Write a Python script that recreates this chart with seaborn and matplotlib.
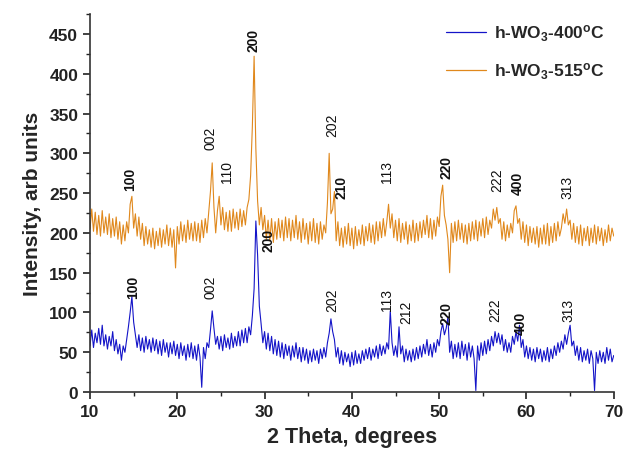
import numpy as np
import pandas as pd
import matplotlib
matplotlib.use('Agg')
import matplotlib.pyplot as plt
from matplotlib.ticker import MultipleLocator
import seaborn as sns

# XRD scans, 2theta from 10 to 70 deg in 0.2 deg steps
two_theta = np.round(np.arange(10, 70.01, 0.2), 1)

# h-WO3 annealed at 400 C, one row of five points per degree
int_400 = [
    58, 78, 56, 74, 62,    80, 60, 84, 58, 72,    54, 70, 58, 76, 52,
    66, 48, 60, 40, 58,    50, 66, 82, 100, 120,  88, 72, 56, 72, 52,
    68, 50, 70, 54, 66,    50, 68, 52, 66, 48,    64, 46, 66, 50, 62,
    44, 62, 48, 64, 46,    60, 42, 62, 46, 58,    40, 60, 44, 62, 42,
    58, 40, 60, 44, 6,     56, 42, 62, 56, 78,    102, 80, 60, 70, 54,
    70, 52, 72, 56, 68,    54, 74, 56, 70, 58,    76, 58, 78, 62, 80,
    62, 82, 72, 96, 130,   215, 172, 108, 86, 62,  76, 54, 74, 52, 70,
    48, 66, 46, 64, 44,    62, 42, 60, 46, 58,    40, 58, 44, 62, 42,
    56, 38, 56, 40, 54,    36, 52, 38, 54, 40,    52, 36, 54, 42, 56,
    44, 62, 74, 92, 76,    66, 44, 56, 36, 52,    34, 50, 38, 48, 32,
    50, 34, 52, 36, 48,    36, 52, 40, 54, 42,    56, 40, 54, 44, 58,
    42, 60, 46, 58, 48,    62, 54, 102, 62, 46,   58, 44, 82, 48, 58,
    38, 54, 40, 52, 38,    54, 40, 56, 42, 58,    44, 60, 48, 66, 46,
    60, 44, 62, 50, 66,    58, 76, 86, 72, 80,    94, 50, 64, 42, 60,
    44, 62, 42, 64, 46,    60, 40, 62, 44, 58,    42, 2, 58, 40, 62,
    46, 64, 48, 66, 52,    70, 58, 76, 62, 74,    60, 72, 52, 66, 50,
    62, 50, 70, 60, 76,    64, 84, 56, 66, 44,    58, 42, 56, 40, 54,
    38, 56, 42, 54, 38,    52, 40, 56, 38, 54,    42, 58, 46, 62, 50,
    64, 54, 72, 60, 74,    84, 58, 64, 46, 58,    40, 56, 38, 52, 40,
    54, 36, 52, 42, 2,     50, 36, 52, 38, 50,    36, 56, 40, 54, 38,
    46,
]

# h-WO3 annealed at 515 C
int_515 = [
    205, 230, 202, 226, 198,  222, 196, 228, 200, 220,  198, 224, 194, 218, 196,
    220, 192, 214, 186, 210,  190, 214, 200, 236, 246,  206, 224, 196, 220, 192,
    212, 184, 208, 186, 204,  182, 206, 180, 202, 184,  206, 182, 204, 186, 210,
    184, 206, 182, 204, 156,  208, 186, 214, 190, 210,  188, 216, 192, 212, 190,
    214, 190, 212, 188, 216,  194, 218, 200, 226, 252,  288, 232, 200, 228, 246,
    210, 232, 204, 226, 202,  228, 202, 230, 206, 226,  204, 230, 208, 228, 210,
    232, 242, 272, 334, 422,  306, 240, 210, 232, 204,  222, 192, 216, 190, 218,
    188, 214, 192, 218, 194,  216, 190, 220, 194, 218,  190, 216, 194, 222, 192,
    214, 188, 218, 192, 212,  186, 214, 190, 218, 188,  212, 186, 214, 192, 210,
    200, 238, 300, 224, 230,  252, 190, 214, 184, 206,  182, 208, 186, 212, 184,
    206, 180, 208, 184, 204,  186, 210, 184, 208, 190,  212, 188, 210, 186, 214,
    190, 214, 194, 218, 196,  214, 236, 206, 224, 194,  216, 190, 218, 188, 212,
    192, 214, 186, 210, 190,  216, 188, 212, 190, 214,  194, 216, 198, 222, 194,
    218, 192, 216, 196, 220,  208, 246, 260, 222, 210,  192, 150, 212, 188, 214,
    190, 216, 192, 212, 188,  210, 186, 212, 190, 214,  192, 216, 190, 214, 196,
    218, 194, 220, 198, 216,  206, 230, 216, 232, 212,  218, 192, 214, 190, 210,
    194, 212, 200, 228, 234,  212, 218, 192, 214, 188,  210, 184, 208, 188, 206,
    186, 208, 182, 206, 186,  210, 186, 212, 184, 208,  188, 212, 190, 214, 196,
    206, 224, 212, 230, 210,  216, 192, 212, 188, 208,  186, 210, 184, 206, 190,
    208, 184, 206, 188, 210,  186, 208, 190, 206, 184,  204, 188, 210, 190, 206,
    196,
]

series_names = ['h-WO$_3$-400$^o$C', 'h-WO$_3$-515$^o$C']

# (hkl, 2theta, intensity, weight)
peaks_400 = [('100', 14.9, 133, 'bold'), ('002', 23.8, 133, 'normal'),
             ('200', 30.4, 192, 'bold'), ('202', 37.7, 117, 'normal'),
             ('113', 44.0, 117, 'normal'), ('212', 46.2, 102, 'normal'),
             ('220', 50.8, 100, 'bold'), ('222', 56.4, 104, 'normal'),
             ('400', 59.3, 88, 'bold'), ('313', 64.8, 104, 'normal')]
peaks_515 = [('100', 14.6, 268, 'bold'), ('002', 23.8, 320, 'normal'),
             ('110', 25.7, 278, 'normal'), ('200', 28.7, 443, 'bold'),
             ('202', 37.7, 337, 'normal'), ('210', 38.8, 259, 'bold'),
             ('113', 44.0, 278, 'normal'), ('220', 50.8, 284, 'bold'),
             ('222', 56.6, 268, 'normal'), ('400', 59.0, 264, 'bold'),
             ('313', 64.7, 259, 'normal')]

df = pd.concat([
    pd.DataFrame({'2theta': two_theta, 'I': int_400, 'sample': series_names[0]}),
    pd.DataFrame({'2theta': two_theta, 'I': int_515, 'sample': series_names[1]}),
])

sns.set_style('ticks')
plt.rcParams['font.family'] = ['Liberation Sans', 'DejaVu Sans']
plt.rcParams['mathtext.default'] = 'regular'

fig = plt.figure(figsize=(6.25, 4.56), dpi=100)
ax = fig.add_axes([0.144, 0.138, 0.838, 0.829])

sns.lineplot(data=df, x='2theta', y='I', hue='sample', hue_order=series_names,
             palette=['#1414c8', '#e0881c'], linewidth=0.8, ax=ax)

for lab, x, y, w in peaks_400 + peaks_515:
    ax.text(x, y, lab, rotation=90, ha='center', va='center',
            fontsize=10, fontweight=w, color='#111111')

ax.set_xlim(10, 70)
ax.set_ylim(0, 475)
ax.xaxis.set_major_locator(MultipleLocator(10))
ax.xaxis.set_minor_locator(MultipleLocator(5))
ax.yaxis.set_major_locator(MultipleLocator(50))
ax.yaxis.set_minor_locator(MultipleLocator(25))
ax.tick_params(which='major', length=5, width=1.2, labelsize=12.5, colors='#222222')
ax.tick_params(which='minor', length=3, width=1.0, colors='#222222')
for t in ax.get_xticklabels() + ax.get_yticklabels():
    t.set_fontweight('bold')
for s in ['left', 'bottom']:
    ax.spines[s].set_linewidth(1.2)
    ax.spines[s].set_color('#333333')
sns.despine(ax=ax)

ax.set_xlabel('2 Theta, degrees', fontsize=15.5, fontweight='bold', labelpad=5)
ax.set_ylabel('Intensity, arb units', fontsize=15, fontweight='bold', labelpad=5)

leg = ax.legend(loc='upper right', frameon=False, prop={'weight': 'bold', 'size': 12.5},
                handlelength=2.3, handletextpad=0.5, labelspacing=1.0, borderaxespad=0.1)
for h in leg.get_lines():
    h.set_linewidth(0.9)

fig.savefig('out.png', dpi=100)
